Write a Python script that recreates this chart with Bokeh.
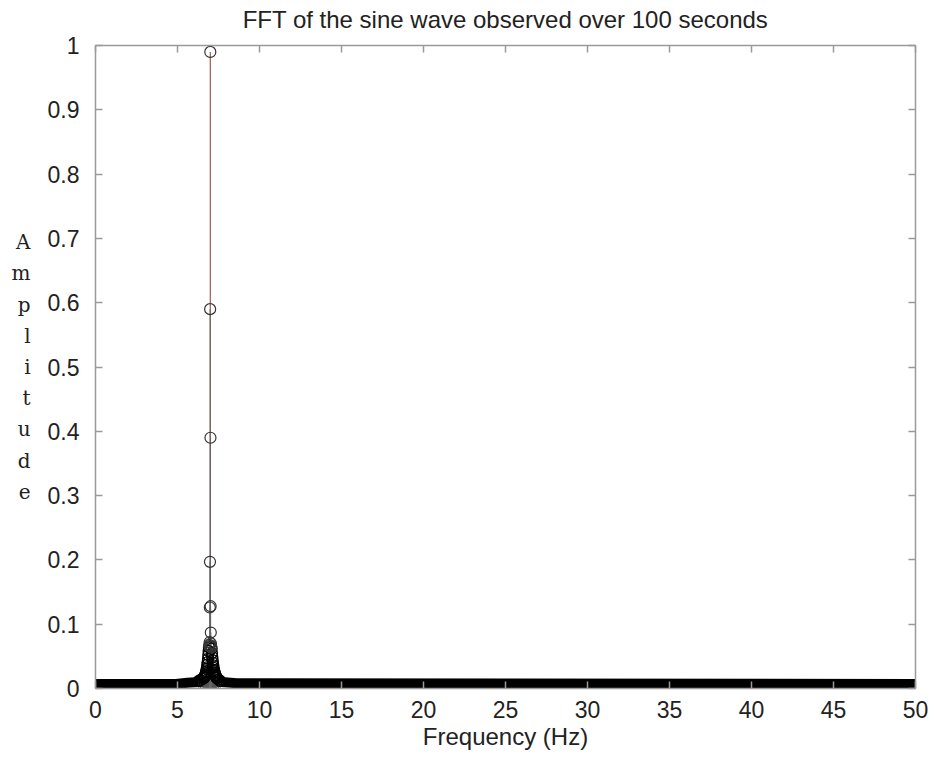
from bokeh.plotting import figure
from bokeh.models import Range1d, LinearAxis, FixedTicker, ColumnDataSource
from bokeh.embed import file_html
from bokeh.resources import INLINE

# ---------------- data ----------------
title_text = "FFT of the sine wave observed over 100 seconds"
x_label = "Frequency (Hz)"
y_label = "Amplitude"

xtick_values = [0, 5, 10, 15, 20, 25, 30, 35, 40, 45, 50]
ytick_values = [0, 0.1, 0.2, 0.3, 0.4, 0.5, 0.6, 0.7, 0.8, 0.9, 1]
ytick_labels = ["0", "0.1", "0.2", "0.3", "0.4", "0.5", "0.6", "0.7", "0.8", "0.9", "1"]

# main peak bins (Hz, amplitude)
peak_freq = [7.00, 6.99, 7.01, 6.98, 7.02, 6.97, 7.03, 6.96, 7.04, 6.95, 7.05, 6.94, 7.06]
peak_amp = [0.99, 0.59, 0.39, 0.197, 0.128, 0.126, 0.087, 0.072, 0.070, 0.068, 0.066, 0.066, 0.064]

# leakage side bins around the peak
side_freq = [6.30, 6.40, 6.50, 6.60, 6.62, 6.64, 6.66, 6.68, 6.70, 6.72, 6.74, 6.76, 6.78,
             6.80, 6.82, 6.84, 6.86, 6.88, 6.90, 6.92,
             7.08, 7.10, 7.12, 7.14, 7.16, 7.18, 7.20, 7.22, 7.24, 7.26, 7.28, 7.30, 7.32,
             7.34, 7.36, 7.38, 7.40, 7.50, 7.60]
side_amp = [0.012, 0.013, 0.015, 0.016, 0.017, 0.018, 0.019, 0.020, 0.021, 0.023, 0.025,
            0.027, 0.030, 0.033, 0.037, 0.041, 0.046, 0.052, 0.058, 0.064,
            0.062, 0.055, 0.049, 0.044, 0.040, 0.036, 0.032, 0.029, 0.027, 0.025, 0.023,
            0.021, 0.020, 0.019, 0.018, 0.017, 0.016, 0.014, 0.012]

# dense low-level floor of all other bins (envelope)
noise_freq = [0, 4.9, 5.6, 6.3, 7.7, 8.6, 50]
noise_amp = [0.007, 0.007, 0.009, 0.010, 0.010, 0.008, 0.007]

# ---------------- figure ----------------
AXIS_COL = "#9a9a9a"
TEXT_COL = "#222222"
SANS = "Liberation Sans"

p = figure(width=929, height=752, output_backend="svg", toolbar_location=None,
           x_range=Range1d(0, 50), y_range=Range1d(0, 1),
           min_border_left=95, min_border_right=14, min_border_top=45, min_border_bottom=60,
           background_fill_color="white", border_fill_color="white")
p.outline_line_color = None
p.grid.visible = False
p.title.visible = False

def style_axis(ax, ticks, show_labels=True):
    ax.ticker = FixedTicker(ticks=ticks)
    ax.axis_line_color = AXIS_COL
    ax.axis_line_width = 1.5
    ax.major_tick_line_color = AXIS_COL
    ax.major_tick_line_width = 1.5
    ax.major_tick_in = 7
    ax.major_tick_out = 0
    ax.minor_tick_line_color = None
    ax.major_label_text_font = SANS
    if show_labels:
        ax.major_label_text_font_size = "23px"
        ax.major_label_text_color = TEXT_COL
    else:
        ax.major_label_text_font_size = "2px"
        ax.major_label_text_color = None
        ax.major_label_standoff = 0

xa = p.xaxis[0]
style_axis(xa, xtick_values)
xa.major_label_standoff = 12
xa.axis_label = x_label
xa.axis_label_text_font = SANS
xa.axis_label_text_font_size = "24px"
xa.axis_label_text_font_style = "normal"
xa.axis_label_text_color = TEXT_COL
xa.axis_label_standoff = 2

ya = p.yaxis[0]
style_axis(ya, ytick_values)
ya.major_label_standoff = 16
ya.major_label_overrides = {v: s for v, s in zip(ytick_values, ytick_labels)}
# vertical stacked y label: one letter per line
ya.axis_label = "\n".join(list(y_label))
ya.axis_label_orientation = "horizontal"
ya.axis_label_text_font = "DejaVu Serif"
ya.axis_label_text_font_size = "20px"
ya.axis_label_text_font_style = "normal"
ya.axis_label_text_color = TEXT_COL
ya.axis_label_text_line_height = 1.30
ya.axis_label_text_align = "center"
ya.axis_label_standoff = 14

# top border axis (inward ticks) carrying the chart title
top_ax = LinearAxis()
style_axis(top_ax, xtick_values, show_labels=False)
top_ax.axis_label = title_text
top_ax.axis_label_text_font = SANS
top_ax.axis_label_text_font_size = "24px"
top_ax.axis_label_text_font_style = "normal"
top_ax.axis_label_text_color = TEXT_COL
top_ax.axis_label_standoff = 13
p.add_layout(top_ax, "above")

right_ax = LinearAxis()
style_axis(right_ax, ytick_values, show_labels=False)
p.add_layout(right_ax, "right")

# floor of the spectrum (thousands of near-zero bins)
p.line(noise_freq, noise_amp, line_width=10, line_color="black")

# stems
side_src = ColumnDataSource(dict(f=side_freq, a=side_amp))
peak_src = ColumnDataSource(dict(f=peak_freq, a=peak_amp))
p.segment(x0=[peak_freq[0]], y0=0, x1=[peak_freq[0]], y1=[peak_amp[0]],
          line_color="#a05a55", line_width=1.2)
p.segment(x0="f", y0=0, x1="f", y1="a", source=side_src, line_color="#555555", line_width=1)
p.segment(x0="f", y0=0, x1="f", y1="a",
          source=ColumnDataSource(dict(f=peak_freq[1:], a=peak_amp[1:])),
          line_color="#666666", line_width=1)

# markers
p.scatter("f", "a", source=side_src, marker="circle", size=11, fill_color=None,
          line_color="black", line_width=1.3)
p.scatter("f", "a", source=peak_src, marker="circle", size=11, fill_color=None,
          line_color="#333333", line_width=1.2)

open("out.html", "w").write(file_html(p, INLINE))
